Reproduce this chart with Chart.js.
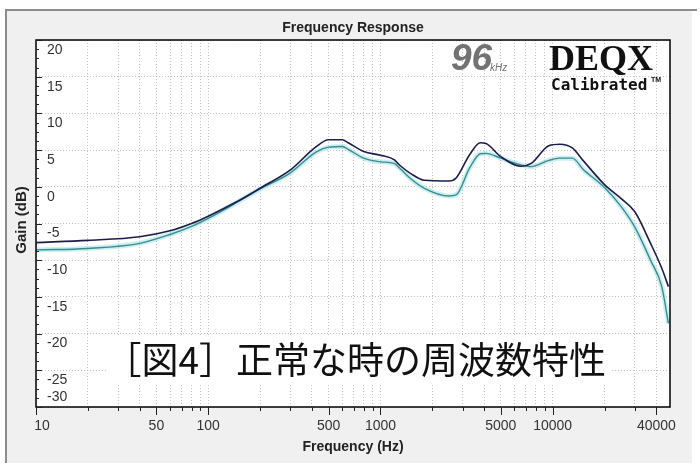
<!DOCTYPE html>
<html>
<head>
<meta charset="utf-8">
<script src="https://cdn.jsdelivr.net/npm/chart.js@4/dist/chart.umd.min.js"></script>
<style>
  html, body { margin: 0; padding: 0; background: #fff; }
  canvas { display: block; }
</style>
</head>
<body>
<canvas id="fr" width="700" height="466"></canvas>
<script>
const freqHz = [10, 20, 40, 60, 80, 100, 150, 200, 300, 420, 500, 600, 650, 800, 1000, 1200, 1300,
  1500, 1800, 2500, 2750, 3300, 3800, 4100, 5000, 6500, 7500, 9500, 11000, 13000, 15000,
  20000, 25000, 30000, 37000, 43000, 47000];
const gainDark = [-7.6, -7.3, -6.8, -6.0, -5.0, -4.0, -1.9, -0.2, 2.3, 5.4, 6.4, 6.4, 6.0, 4.8, 4.3, 3.7, 2.9,
  1.8, 0.9, 0.8, 1.2, 4.4, 6.0, 5.9, 4.1, 2.8, 3.2, 5.6, 5.8, 5.3, 3.6,
  0.3, -1.6, -3.4, -7.7, -11.1, -13.6];
const gainTeal = [-8.6, -8.4, -7.7, -6.5, -5.4, -4.3, -2.0, -0.3, 1.9, 4.7, 5.4, 5.5, 5.1, 3.9, 3.4, 3.2, 2.5,
  1.1, -0.2, -1.25, -1.1, 2.6, 4.5, 4.55, 3.9, 3.0, 2.75, 3.6, 3.9, 3.9, 2.4,
  -0.1, -2.7, -5.5, -10.0, -13.6, -18.6];

const xLabels = [10, 50, 100, 500, 1000, 5000, 10000, 40000];
const yLabels = [20, 15, 10, 5, 0, -5, -10, -15, -20, -25, -30];
const caption = '［図4］正常な時の周波数特性';

// grid positions: 1..9 x each decade, up to 40k
const gridHz = [];
[10, 100, 1000, 10000].forEach(d => {
  for (let m = 1; m <= 9; m++) if (d * m <= 40000) gridHz.push(d * m);
});

const SANS = "'Liberation Sans', Arial, sans-serif";

const framePlugin = {
  id: 'deqxFrame',
  beforeDraw(chart) {
    const { ctx, chartArea: a } = chart;
    ctx.save();
    ctx.fillStyle = '#ffffff';
    ctx.fillRect(0, 0, chart.width, chart.height);
    ctx.fillStyle = '#f0f0f0';
    ctx.fillRect(5, 9, 687, 454);
    ctx.fillStyle = '#8c8c8c';
    ctx.fillRect(5, 9, 692, 2);
    ctx.fillRect(5, 9, 2, 454);
    ctx.fillStyle = '#ffffff';
    ctx.fillRect(a.left, a.top, a.right - a.left, a.bottom - a.top);
    ctx.restore();
  },
  afterDraw(chart) {
    const { ctx, chartArea: a } = chart;
    const xs = chart.scales.x, ys = chart.scales.y;
    ctx.save();

    // caption box over the lower grid
    ctx.fillStyle = '#ffffff';
    ctx.fillRect(107, 336, 505, 47);
    ctx.fillStyle = '#111';
    ctx.font = "37px 'Noto Sans CJK JP', sans-serif";
    ctx.textAlign = 'right';
    ctx.textBaseline = 'alphabetic';
    ctx.fillText(caption, 606, 374);

    // plot box
    ctx.strokeStyle = '#000';
    ctx.lineWidth = 1.5;
    ctx.strokeRect(a.left, a.top, a.right - a.left, a.bottom - a.top);

    // x tick marks + labels
    ctx.lineWidth = 1;
    ctx.strokeStyle = '#222';
    gridHz.forEach(v => {
      const px = Math.round(xs.getPixelForValue(v)) + 0.5;
      const len = xLabels.includes(v) ? 8 : 4;
      ctx.beginPath();
      ctx.moveTo(px, a.bottom);
      ctx.lineTo(px, a.bottom + len);
      ctx.stroke();
    });
    ctx.fillStyle = '#333';
    ctx.font = '14px ' + SANS;
    ctx.textAlign = 'center';
    ctx.textBaseline = 'middle';
    xLabels.forEach(v => {
      let px = xs.getPixelForValue(v);
      if (v === 10) px += 6;
      ctx.fillText(String(v), px, a.bottom + 19);
    });

    // y tick marks (inside) + labels
    for (let v = -30; v <= 20; v += 1.25) {
      const py = Math.round(ys.getPixelForValue(v)) + 0.5;
      const len = v % 5 === 0 ? 6 : 3;
      ctx.beginPath();
      ctx.moveTo(a.left, py);
      ctx.lineTo(a.left + len, py);
      ctx.stroke();
    }
    ctx.textAlign = 'left';
    yLabels.forEach(v => {
      const py = ys.getPixelForValue(v);
      ctx.fillText(String(v), a.left + 11, v === ys.min ? py - 10 : py + 10);
    });

    // titles
    ctx.fillStyle = '#222';
    ctx.font = 'bold 14px ' + SANS;
    ctx.textAlign = 'center';
    ctx.fillText('Frequency Response', (a.left + a.right) / 2, 28);
    ctx.fillText('Frequency (Hz)', (a.left + a.right) / 2, 447);
    ctx.save();
    ctx.translate(22, 220);
    ctx.rotate(-Math.PI / 2);
    ctx.font = 'bold 15px ' + SANS;
    ctx.fillText('Gain (dB)', 0, 0);
    ctx.restore();

    // 96kHz / DEQX Calibrated badge
    ctx.textBaseline = 'alphabetic';
    ctx.textAlign = 'left';
    ctx.fillStyle = '#727272';
    ctx.font = 'italic bold 37px ' + SANS;
    ctx.fillText('96', 451, 70);
    ctx.font = 'italic 10px ' + SANS;
    ctx.fillText('kHz', 490, 71);
    ctx.fillStyle = '#111';
    ctx.font = "bold 36px 'Liberation Serif', 'Times New Roman', serif";
    ctx.fillText('DEQX', 549, 70);
    ctx.font = "bold 16px 'DejaVu Sans Mono', monospace";
    ctx.fillText('Calibrated', 551, 90);
    ctx.font = 'bold 7px ' + SANS;
    ctx.fillText('TM', 651, 82);

    ctx.restore();
  }
};

const toPts = arr => freqHz.map((f, i) => ({ x: f, y: arr[i] }));

new Chart(document.getElementById('fr').getContext('2d'), {
  type: 'line',
  data: {
    datasets: [
      { label: 'L', data: toPts(gainDark), borderColor: '#1d1d4c', borderWidth: 1.6,
        pointRadius: 0, cubicInterpolationMode: 'monotone' },
      { label: 'R', data: toPts(gainTeal), borderColor: '#3a8c89', borderWidth: 1.4,
        pointRadius: 0, cubicInterpolationMode: 'monotone' },
      { label: 'R halo', data: toPts(gainTeal), borderColor: 'rgba(160,225,235,0.55)', borderWidth: 5,
        pointRadius: 0, cubicInterpolationMode: 'monotone' },
    ],
  },
  options: {
    responsive: false, animation: false,
    layout: { padding: { left: 36, top: 40, right: 30, bottom: 59 } },
    plugins: { legend: { display: false }, tooltip: { enabled: false }, title: { display: false } },
    scales: {
      x: {
        type: 'logarithmic', min: 10, max: 48000,
        afterBuildTicks: s => { s.ticks = gridHz.map(v => ({ value: v })); },
        ticks: { display: false },
        grid: { color: '#c2c2c2', lineWidth: 1, drawTicks: false },
        border: { display: false, dash: [1, 2] },
      },
      y: {
        type: 'linear', min: -30, max: 20,
        ticks: { display: false, stepSize: 5 },
        grid: { color: '#c2c2c2', lineWidth: 1, drawTicks: false },
        border: { display: false, dash: [1, 2] },
      },
    },
  },
  plugins: [framePlugin],
});
</script>
</body>
</html>
